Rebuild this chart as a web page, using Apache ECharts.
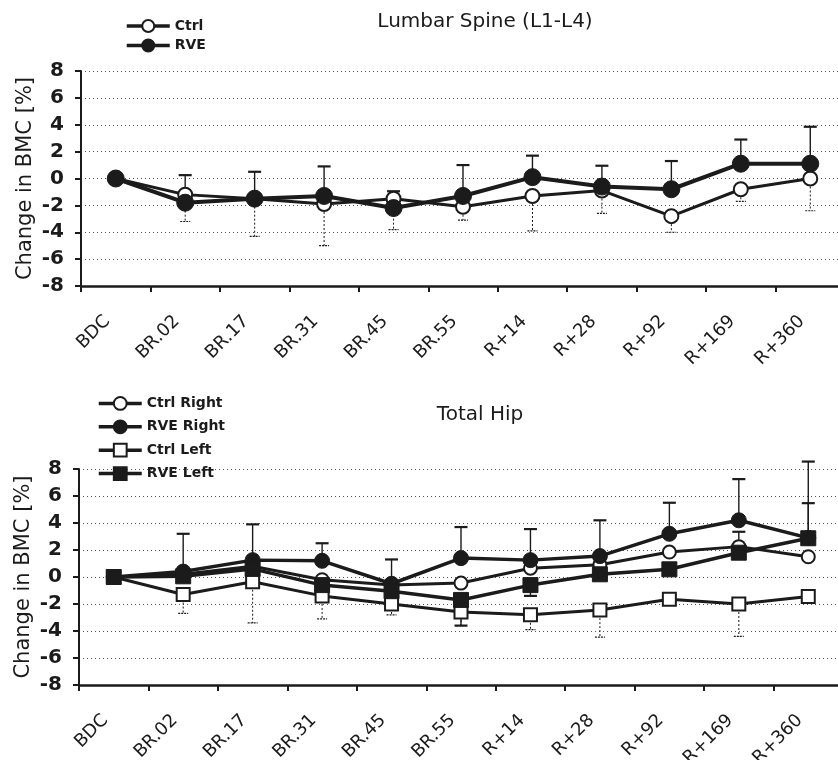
<!DOCTYPE html>
<html>
<head>
<meta charset="utf-8">
<script src="https://cdn.jsdelivr.net/npm/echarts@6/dist/echarts.min.js"></script>
<style>
html,body{margin:0;padding:0;background:#fff;}
#chart{width:838px;height:760px;}
</style>
</head>
<body>
<div id="chart"></div>
<script>
// ---- data ----
const categories = ['BDC','BR.02','BR.17','BR.31','BR.45','BR.55','R+14','R+28','R+92','R+169','R+360'];
const yTicks = { min: -8, max: 8, step: 2 };

// Lumbar Spine (L1-L4)
const spineCtrl = [0, -1.2, -1.5, -1.9, -1.5, -2.1, -1.3, -0.9, -2.8, -0.8, 0.0];
const spineRVE  = [0, -1.8, -1.5, -1.3, -2.2, -1.3, 0.1, -0.6, -0.8, 1.1, 1.1];
const spineRVEErrUp    = [null, 2.05, 2.0, 2.2, 1.25, 2.3, 1.6, 1.55, 2.1, 1.8, 2.75];
const spineCtrlErrDown = [null, 2.0, 2.8, 3.1, 2.3, 1.0, 2.6, 1.7, 1.2, 0.9, 2.4];

// Total Hip
const hipCtrlRight = [0, 0.2, 0.8, -0.2, -0.6, -0.45, 0.65, 0.9, 1.85, 2.25, 1.5];
const hipRVERight  = [0, 0.4, 1.25, 1.2, -0.5, 1.4, 1.25, 1.55, 3.2, 4.2, 2.9];
const hipCtrlLeft  = [0, -1.3, -0.35, -1.4, -2.0, -2.6, -2.8, -2.45, -1.65, -2.0, -1.45];
const hipRVELeft   = [0, 0.05, 0.6, -0.6, -1.05, -1.7, -0.6, 0.2, 0.57, 1.8, 2.87];
const hipRVERightErrUp  = [null, 2.8, 2.65, 1.3, 1.8, 2.3, 2.3, 2.65, 2.3, 3.05, 5.65];
const hipRVELeftErrUp   = [null, null, null, null, null, null, null, null, null, 1.55, 2.6];
const hipRVELeftErrDown = [null, null, null, null, null, 1.9, 0.8, null, null, null, null];
const hipCtrlLeftErrDown = [null, 1.4, 3.05, 1.7, 0.8, 1.0, 1.1, 2.0, null, 2.4, null];

// ---- helpers ----
const INK = '#1b1b1b';
const FONT = 'DejaVu Sans';

function errData(vals, errs, sign) {
  const out = [];
  errs.forEach((e, i) => { if (e != null) out.push([i, vals[i], sign * e]); });
  return out;
}
function errSeries(vals, errs, sign, dashed, axisIdx) {
  return {
    type: 'custom',
    xAxisIndex: axisIdx, yAxisIndex: axisIdx,
    silent: true,
    data: errData(vals, errs, sign),
    renderItem: function (params, api) {
      const x = api.value(0), v = api.value(1), e = api.value(2);
      const p0 = api.coord([x, v]);
      const p1 = api.coord([x, v + e]);
      const half = dashed ? 5 : 6.5;
      const style = { stroke: INK, lineWidth: dashed ? 1 : 1.4, lineDash: dashed ? [2, 2] : null, fill: null };
      return {
        type: 'group',
        children: [
          { type: 'line', shape: { x1: p0[0], y1: p0[1], x2: p1[0], y2: p1[1] }, style: style },
          { type: 'line', shape: { x1: p1[0] - half, y1: p1[1], x2: p1[0] + half, y2: p1[1] },
            style: { stroke: INK, lineWidth: dashed ? 1.2 : 2.2, lineDash: dashed ? [2, 1] : null } }
        ]
      };
    }
  };
}
function lineSeries(name, vals, symbol, size, filled, width, axisIdx) {
  return {
    name: name, type: 'line', data: vals,
    xAxisIndex: axisIdx, yAxisIndex: axisIdx,
    symbol: symbol, symbolSize: size, showAllSymbol: true,
    lineStyle: { color: INK, width: width },
    itemStyle: filled ? { color: INK, borderColor: INK, borderWidth: 1 }
                      : { color: '#ffffff', borderColor: INK, borderWidth: 2 },
    emphasis: { disabled: true },
    animation: false
  };
}
function xAxisCfg(idx) {
  return {
    type: 'category', gridIndex: idx, data: categories, boundaryGap: true,
    axisLine: { onZero: false, lineStyle: { color: INK, width: 2.5 } },
    axisTick: { show: true, length: 6, lineStyle: { color: INK, width: 2 } },
    axisLabel: { rotate: 45, margin: 24, padding: [0, 12, 0, 0], color: INK, fontFamily: FONT, fontSize: 18 },
    splitLine: { show: false }
  };
}
function yAxisCfg(idx) {
  return {
    type: 'value', gridIndex: idx, min: yTicks.min, max: yTicks.max, interval: yTicks.step,
    name: 'Change in BMC [%]', nameLocation: 'middle', nameGap: 45, nameMoveOverlap: false,
    nameTextStyle: { color: INK, fontFamily: FONT, fontSize: 21 },
    axisLine: { show: true, onZero: false, lineStyle: { color: INK, width: 2 } },
    axisTick: { show: true, length: 6, lineStyle: { color: INK, width: 2 } },
    axisLabel: { margin: 17, color: INK, fontFamily: FONT, fontSize: 20, fontWeight: 'bold' },
    splitLine: { show: true, lineStyle: { color: '#555', width: 1, type: [1, 3] } }
  };
}
const legendText = { fontFamily: FONT, fontSize: 14, fontWeight: 'bold', color: INK };

const chart = echarts.init(document.getElementById('chart'), null, { renderer: 'canvas' });
chart.setOption({
  animation: false,
  backgroundColor: '#ffffff',
  textStyle: { fontFamily: FONT },
  title: [
    { text: 'Lumbar Spine (L1-L4)', left: 480, top: 7, textAlign: 'center',
      textStyle: { fontFamily: FONT, fontSize: 20, fontWeight: 'normal', color: INK } },
    { text: 'Total Hip', left: 475, top: 400, textAlign: 'center',
      textStyle: { fontFamily: FONT, fontSize: 20, fontWeight: 'normal', color: INK } }
  ],
  legend: [
    { data: ['Ctrl', 'RVE'], orient: 'vertical', left: 125, top: 19, padding: 0,
      itemWidth: 43, itemHeight: 15, itemGap: 5.5,
      lineStyle: { width: 3.5 },
      textStyle: legendText },
    { data: ['Ctrl Right', 'RVE Right', 'Ctrl Left', 'RVE Left'], orient: 'vertical', left: 97, top: 396, padding: 0,
      itemWidth: 43, itemHeight: 16, itemGap: 8.6,
      lineStyle: { width: 3.5 },
      textStyle: legendText }
  ],
  grid: [
    { left: 81, top: 71, width: 764, height: 215, outerBoundsMode: 'none', containLabel: false },
    { left: 79, top: 469, width: 764, height: 216, outerBoundsMode: 'none', containLabel: false }
  ],
  xAxis: [xAxisCfg(0), xAxisCfg(1)],
  yAxis: [yAxisCfg(0), yAxisCfg(1)],
  series: [
    errSeries(spineCtrl, spineCtrlErrDown, -1, true, 0),
    errSeries(spineRVE, spineRVEErrUp, 1, false, 0),
    lineSeries('Ctrl', spineCtrl, 'circle', 14, false, 3, 0),
    lineSeries('RVE', spineRVE, 'circle', 17, true, 4, 0),

    errSeries(hipCtrlLeft, hipCtrlLeftErrDown, -1, true, 1),
    errSeries(hipRVELeft, hipRVELeftErrUp, 1, false, 1),
    errSeries(hipRVELeft, hipRVELeftErrDown, -1, false, 1),
    errSeries(hipRVERight, hipRVERightErrUp, 1, false, 1),
    lineSeries('Ctrl Right', hipCtrlRight, 'circle', 13, false, 3, 1),
    lineSeries('Ctrl Left', hipCtrlLeft, 'rect', 13, false, 3, 1),
    lineSeries('RVE Right', hipRVERight, 'circle', 15, true, 3.5, 1),
    lineSeries('RVE Left', hipRVELeft, 'rect', 15, true, 3.5, 1)
  ]
});
</script>
</body>
</html>
